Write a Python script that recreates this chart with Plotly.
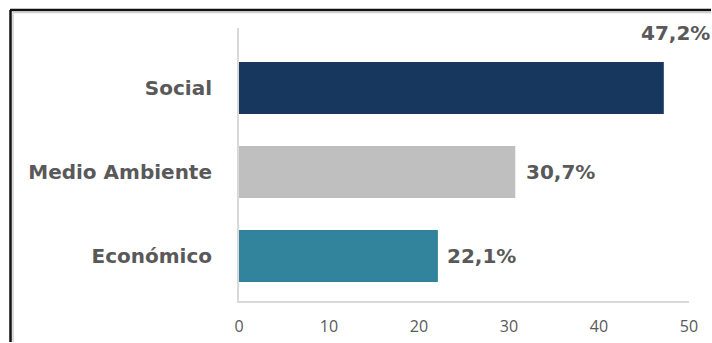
import plotly.graph_objects as go

categories = ["Económico", "Medio Ambiente", "Social"]
values = [22.1, 30.7, 47.2]
colors = ["#31849B", "#BFBFBF", "#17375E"]
labels = ["22,1%", "30,7%", "47,2%"]
x_ticks = [0, 10, 20, 30, 40, 50]

W, H = 712, 343
ml, mr, mt, mb = 239, 23, 28, 42
pw, ph = W - ml - mr, H - mt - mb

fig = go.Figure()
fig.add_trace(go.Bar(
    y=categories, x=values, orientation="h",
    marker=dict(color=colors, line=dict(width=0)),
    width=0.62, hoverinfo="skip",
))

# value labels next to each bar; the largest one sits above its bar,
# right-aligned so it stays inside the figure
placements = [("left", 7, 0), ("left", 9, 0), ("right", 48, 55)]
for cat, v, lab, (anchor, dx, dy) in zip(categories, values, labels, placements):
    fig.add_annotation(
        x=v, y=cat, text=lab, showarrow=False,
        xanchor=anchor, yanchor="middle", xshift=dx, yshift=dy,
        font=dict(family="DejaVu Sans", size=20, color="#595959", weight="bold"),
    )

# outer frame: only the left and top edges fall inside the figure
def px_x(px):
    return (px - ml) / pw

def px_y(py):
    return (H - mb - py) / ph

frame = [
    (10.5, 10, 10.5, H - 1, "#111111", 2.5),
    (10, 10, W - 1, 10, "#111111", 2.5),
    (13, 12.5, 13, H - 1, "#CFCFCF", 1.5),
    (13, 12.5, W - 1, 12.5, "#CFCFCF", 1.5),
]
for x0, y0, x1, y1, c, w in frame:
    fig.add_shape(type="line", xref="paper", yref="paper",
                  x0=px_x(x0), x1=px_x(x1), y0=px_y(y0), y1=px_y(y1),
                  line=dict(color=c, width=w), layer="above")

fig.update_layout(
    width=W, height=H,
    margin=dict(l=ml, r=mr, t=mt, b=mb, autoexpand=False),
    paper_bgcolor="white", plot_bgcolor="white",
    showlegend=False,
    xaxis=dict(
        range=[0, 50], tickvals=x_ticks, ticktext=[str(t) for t in x_ticks],
        showgrid=False, zeroline=False, automargin=False,
        showline=True, linecolor="#D9D9D9", linewidth=2,
        ticks="outside", ticklen=10, tickcolor="rgba(0,0,0,0)",
        tickfont=dict(family="Open Sans", size=16, color="#595959"),
        fixedrange=True,
    ),
    yaxis=dict(
        type="category", categoryorder="array", categoryarray=categories,
        range=[-0.536, 2.714],
        showgrid=False, zeroline=False, automargin=False,
        showline=True, linecolor="#D9D9D9", linewidth=2,
        ticks="outside", ticklen=21, tickcolor="rgba(0,0,0,0)",
        tickfont=dict(family="DejaVu Sans", size=20, color="#595959", weight="bold"),
        fixedrange=True,
    ),
)

# keep the page itself from showing scrollbars around the figure
no_scroll = (
    "document.documentElement.style.overflow='hidden';"
    "document.body.style.overflow='hidden';"
    "document.body.style.margin='0';"
)
fig.write_html("out.html", config={"displayModeBar": False}, post_script=no_scroll)
